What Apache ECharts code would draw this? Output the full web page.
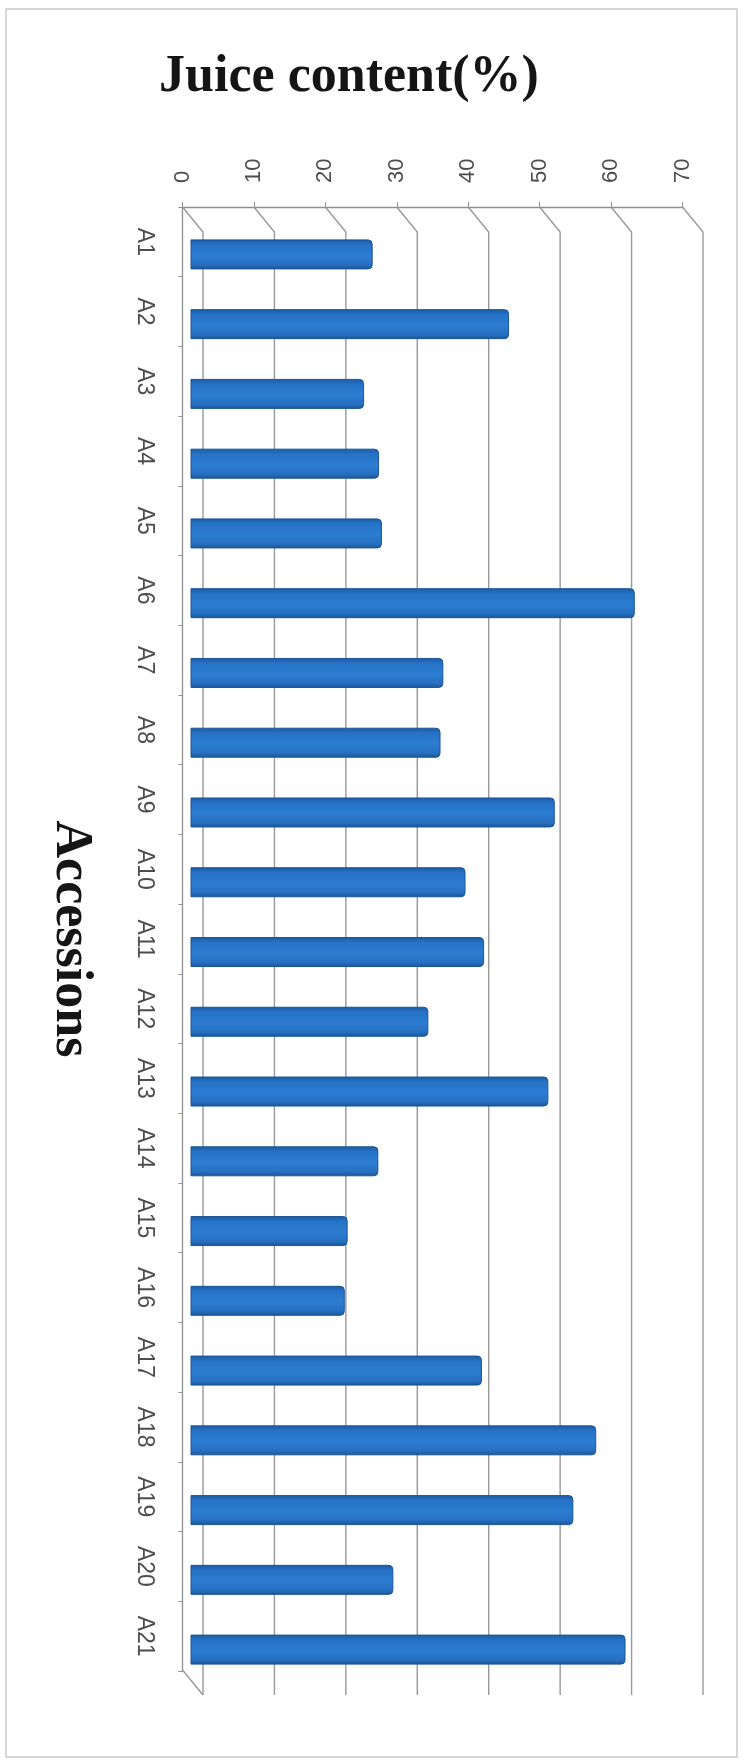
<!DOCTYPE html>
<html>
<head>
<meta charset="utf-8">
<title>Juice content(%)</title>
<script src="https://cdn.jsdelivr.net/npm/echarts@6/dist/echarts.min.js"></script>
<style>
  html, body { margin: 0; padding: 0; background: #ffffff; }
  #chart { width: 745px; height: 1761px; }
</style>
</head>
<body>
<div id="chart"></div>
<script>
// Accessions and their juice content (%)
const categories = ['A1', 'A2', 'A3', 'A4', 'A5', 'A6', 'A7', 'A8', 'A9', 'A10', 'A11',
  'A12', 'A13', 'A14', 'A15', 'A16', 'A17', 'A18', 'A19', 'A20', 'A21'];
const juiceContent = [25.5, 44.6, 24.3, 26.4, 26.8, 62.2, 35.4, 35.0, 51.0, 38.5, 41.1,
  33.3, 50.1, 26.3, 22.0, 21.6, 40.8, 56.8, 53.6, 28.4, 60.9];
const valueTicks = [0, 10, 20, 30, 40, 50, 60, 70];

const AXIS_MIN = 0, AXIS_MAX = 70, AXIS_STEP = 10;
const GRID_COLOR = '#999999';
const LABEL_COLOR = '#4d4d4d';
const AXIS_COLOR = '#8f8f8f';
const SANS = '"Liberation Sans", "Open Sans", sans-serif';
const SERIF = '"Liberation Serif", "DejaVu Serif", serif';

// front plane (axes), back wall (gridlines) and the bars half way between them
const FRONT = { left: 182.5, top: 207, width: 500, height: 1464 };
const BACK = { left: 203, top: 232, width: 500, height: 1463 };
const BARS = { left: 190.5, top: 219.5, width: 500, height: 1465 };
const DEPTH_DX = BACK.left - FRONT.left;
const DEPTH_DY = BACK.top - FRONT.top;

const chart = echarts.init(document.getElementById('chart'), null, { renderer: 'canvas' });

const hiddenAxis = {
  axisLine: { show: false }, axisTick: { show: false },
  axisLabel: { show: false }, splitLine: { show: false }
};

const option = {
  backgroundColor: '#ffffff',
  animation: false,
  title: {
    text: 'Juice content(%)',
    left: 344,
    top: 47,
    textAlign: 'center',
    textStyle: {
      fontFamily: SERIF,
      fontWeight: 'bold',
      fontSize: 52,
      color: '#151515'
    }
  },
  graphic: [{
    type: 'rect',
    shape: { x: 6, y: 9, width: 731, height: 1748 },
    style: { fill: 'none', stroke: '#c9c9c9', lineWidth: 1.5 },
    silent: true
  }],
  grid: [FRONT, BACK, BARS],
  xAxis: [
    {
      gridIndex: 0, type: 'value', position: 'top',
      min: AXIS_MIN, max: AXIS_MAX, interval: AXIS_STEP,
      axisLine: { show: true, lineStyle: { color: AXIS_COLOR, width: 1.3 } },
      axisTick: { show: true, length: 5, lineStyle: { color: AXIS_COLOR } },
      axisLabel: {
        rotate: -90, margin: 24, color: LABEL_COLOR, fontSize: 22,
        fontFamily: SANS
      },
      splitLine: { show: false }
    },
    Object.assign({ gridIndex: 1, type: 'value', min: AXIS_MIN, max: AXIS_MAX, interval: AXIS_STEP }, hiddenAxis),
    Object.assign({ gridIndex: 2, type: 'value', min: AXIS_MIN, max: AXIS_MAX, interval: AXIS_STEP }, hiddenAxis)
  ],
  yAxis: [
    {
      gridIndex: 0, type: 'category', inverse: true, data: categories,
      axisLine: { show: true, lineStyle: { color: AXIS_COLOR, width: 1.3 } },
      axisTick: { show: true, length: 4, lineStyle: { color: AXIS_COLOR } },
      axisLabel: {
        rotate: -90, margin: 27, color: LABEL_COLOR, fontSize: 23,
        fontFamily: SANS
      },
      splitLine: { show: false },
      name: 'Accessions',
      nameLocation: 'middle',
      nameRotate: -90,
      nameGap: 86,
      nameTextStyle: {
        fontFamily: SERIF,
        fontWeight: 'bold',
        fontSize: 52,
        color: '#151515'
      }
    },
    Object.assign({ gridIndex: 1, type: 'category', inverse: true, data: categories }, hiddenAxis),
    Object.assign({ gridIndex: 2, type: 'category', inverse: true, data: categories }, hiddenAxis)
  ],
  series: [
    {
      // back-wall gridlines, each joined to its tick on the front axis
      type: 'custom',
      xAxisIndex: 1,
      yAxisIndex: 1,
      silent: true,
      z: 1,
      data: valueTicks.map(function (v) { return [v]; }),
      renderItem: function (params, api) {
        const v = api.value(0);
        const half = api.size([0, 1])[1] / 2;
        const first = api.coord([v, 0]);
        const last = api.coord([v, categories.length - 1]);
        const x = first[0];
        const yTop = first[1] - half;
        const yBot = last[1] + half;
        const style = { stroke: GRID_COLOR, lineWidth: 1.4, fill: 'none' };
        const children = [{
          type: 'polyline',
          shape: { points: [[x - DEPTH_DX, yTop - DEPTH_DY], [x, yTop], [x, yBot]] },
          style: style
        }];
        if (v === AXIS_MIN) {
          children.push({
            type: 'line',
            shape: { x1: x - DEPTH_DX, y1: yBot - DEPTH_DY, x2: x, y2: yBot },
            style: style
          });
        }
        return { type: 'group', children: children };
      }
    },
    {
      name: 'Juice content(%)',
      type: 'bar',
      xAxisIndex: 2,
      yAxisIndex: 2,
      z: 3,
      data: juiceContent,
      barWidth: 30,
      itemStyle: {
        borderRadius: [0, 4, 4, 0],
        borderColor: '#1b5596',
        borderWidth: 1,
        color: new echarts.graphic.LinearGradient(0, 0, 0, 1, [
          { offset: 0, color: '#1c5aa0' },
          { offset: 0.18, color: '#2572c6' },
          { offset: 0.55, color: '#2c7dd2' },
          { offset: 0.85, color: '#266fc0' },
          { offset: 1, color: '#1a5494' }
        ])
      }
    }
  ]
};

chart.setOption(option);
</script>
</body>
</html>
